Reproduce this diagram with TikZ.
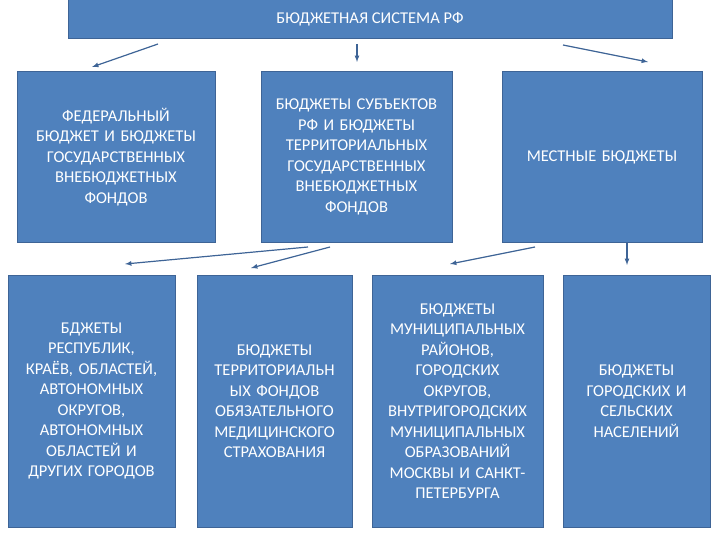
\documentclass[tikz,border=0pt]{standalone}
\usepackage{fontspec}
\setmainfont{Carlito}
\begin{document}
\begin{tikzpicture}[x=1pt,y=-1pt,
 bx/.style={draw=arrowc,line width=1pt,fill=blueA,text=white,inner sep=0pt,align=center,font=\fontsize{16.5}{20.5}\selectfont},
 ar/.style={draw=arrowc,line width=1.2pt,-latex}]
\definecolor{blueA}{HTML}{4F81BD}
\definecolor{arrowc}{HTML}{3E6496}
\useasboundingbox (0,0) rectangle (720,540);
\node[bx,minimum width=604,minimum height=39] (top) at (370,19.5) {БЮДЖЕТНАЯ СИСТЕМА РФ};
\node[bx,minimum width=198,minimum height=170,text width=196] (a) at (116,157) {ФЕДЕРАЛЬНЫЙ\\БЮДЖЕТ И БЮДЖЕТЫ\\ГОСУДАРСТВЕННЫХ\\ВНЕБЮДЖЕТНЫХ\\ФОНДОВ};
\node[bx,minimum width=191,minimum height=170,text width=190] (b) at (356.5,157) {БЮДЖЕТЫ СУБЪЕКТОВ\\РФ И БЮДЖЕТЫ\\ТЕРРИТОРИАЛЬНЫХ\\ГОСУДАРСТВЕННЫХ\\ВНЕБЮДЖЕТНЫХ\\ФОНДОВ};
\node[bx,minimum width=200,minimum height=170,text width=196] (c) at (602,157) {МЕСТНЫЕ БЮДЖЕТЫ};
\node[bx,minimum width=167,minimum height=252,text width=166] (d) at (91.5,401) {БДЖЕТЫ\\РЕСПУБЛИК,\\КРАЁВ, ОБЛАСТЕЙ,\\АВТОНОМНЫХ\\ОКРУГОВ,\\АВТОНОМНЫХ\\ОБЛАСТЕЙ И\\ДРУГИХ ГОРОДОВ};
\node[bx,minimum width=155,minimum height=252,text width=154] (e) at (274.5,401) {БЮДЖЕТЫ\\ТЕРРИТОРИАЛЬН\\ЫХ ФОНДОВ\\ОБЯЗАТЕЛЬНОГО\\МЕДИЦИНСКОГО\\СТРАХОВАНИЯ};
\node[bx,minimum width=171,minimum height=252,text width=170] (f) at (457.5,401) {БЮДЖЕТЫ\\МУНИЦИПАЛЬНЫХ\\РАЙОНОВ,\\ГОРОДСКИХ\\ОКРУГОВ,\\ВНУТРИГОРОДСКИХ\\МУНИЦИПАЛЬНЫХ\\ОБРАЗОВАНИЙ\\МОСКВЫ И САНКТ-\\ПЕТЕРБУРГА};
\node[bx,minimum width=147,minimum height=252,text width=146] (g) at (636.5,401) {БЮДЖЕТЫ\\ГОРОДСКИХ И\\СЕЛЬСКИХ\\НАСЕЛЕНИЙ};
\coordinate (t1) at (158,44); \coordinate (t2) at (357,44); \coordinate (t3) at (563,45);
\coordinate (h1) at (92,67); \coordinate (h2) at (357,62); \coordinate (h3) at (648,62);
\coordinate (m1) at (308,247); \coordinate (m2) at (330,247); \coordinate (m3) at (535,247); \coordinate (m4) at (627,243);
\coordinate (k1) at (125,264); \coordinate (k2) at (251,268); \coordinate (k3) at (450,264); \coordinate (k4) at (627,265);
\draw[ar] (t1) -- (h1);
\draw[ar] (t2) -- (h2);
\draw[ar] (t3) -- (h3);
\draw[ar] (m1) -- (k1);
\draw[ar] (m2) -- (k2);
\draw[ar] (m3) -- (k3);
\draw[ar] (m4) -- (k4);
\end{tikzpicture}
\end{document}
